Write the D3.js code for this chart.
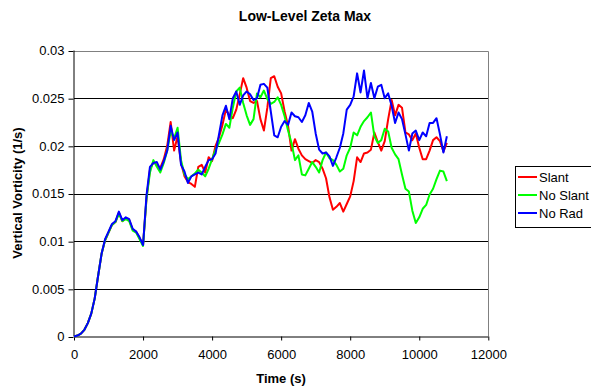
<!DOCTYPE html>
<html><head><meta charset="utf-8">
<script src="https://cdn.jsdelivr.net/npm/d3@7"></script>
<style>
html,body{margin:0;padding:0;background:#fff;}
svg{display:block;font-family:"Liberation Sans",Arial,sans-serif;}
</style></head>
<body><svg id="c" width="591" height="389"></svg>
<script>
const time = [
  0,100,200,300,400,500,600,700,800,900,
  1000,1100,1200,1300,1400,1500,1600,1700,1800,1900,
  2000,2100,2200,2300,2400,2500,2600,2700,2800,2900,
  3000,3100,3200,3300,3400,3500,3600,3700,3800,3900,
  4000,4100,4200,4300,4400,4500,4600,4700,4800,4900,
  5000,5100,5200,5300,5400,5500,5600,5700,5800,5900,
  6000,6100,6200,6300,6400,6500,6600,6700,6800,6900,
  7000,7100,7200,7300,7400,7500,7600,7700,7800,7900,
  8000,8100,8200,8300,8400,8500,8600,8700,8800,8900,
  9000,9100,9200,9300,9400,9500,9600,9700,9800,9900,
  10000,10100,10200,10300,10400,10500,10600,10700,10800
];
const slant = [
  0,0.0001,0.0003,0.0007,0.0014,0.0024,0.0040,0.0064,0.0087,0.0101,
  0.0109,0.0117,0.0120,0.0130,0.0121,0.0124,0.0122,0.0112,0.0110,0.0103,
  0.0096,0.0145,0.0175,0.0183,0.0180,0.0177,0.0186,0.0200,0.0225,0.0195,
  0.0210,0.0182,0.0168,0.0162,0.0160,0.0157,0.0178,0.0180,0.0172,0.0188,
  0.0184,0.0200,0.0209,0.0222,0.0238,0.0232,0.0229,0.0238,0.0254,0.0271,
  0.0261,0.0247,0.0245,0.0247,0.0228,0.0216,0.0240,0.0271,0.0273,0.0262,
  0.0255,0.0236,0.0221,0.0195,0.0207,0.0197,0.0190,0.0186,0.0184,0.0182,
  0.0185,0.0183,0.0176,0.0166,0.0146,0.0133,0.0136,0.0140,0.0131,0.0139,
  0.0147,0.0163,0.0188,0.0183,0.0192,0.0193,0.0196,0.0214,0.0204,0.0195,
  0.0205,0.0228,0.0248,0.0232,0.0243,0.0240,0.0214,0.0212,0.0206,0.0213,
  0.0198,0.0186,0.0186,0.0195,0.0206,0.0209,0.0205,0.0194,0.0203
];
const noSlant = [
  0,0.0001,0.0003,0.0007,0.0014,0.0024,0.0040,0.0064,0.0087,0.0101,
  0.0109,0.0117,0.0120,0.0129,0.0121,0.0123,0.0121,0.0111,0.0109,0.0102,
  0.0095,0.0145,0.0172,0.0185,0.0178,0.0172,0.0182,0.0195,0.0215,0.0208,
  0.0219,0.0185,0.0170,0.0165,0.0168,0.0171,0.0175,0.0172,0.0168,0.0176,
  0.0186,0.0196,0.0203,0.0212,0.0223,0.0219,0.0240,0.0257,0.0261,0.0245,
  0.0232,0.0222,0.0228,0.0255,0.0251,0.0258,0.0249,0.0244,0.0246,0.0251,
  0.0243,0.0231,0.0216,0.0203,0.0185,0.0190,0.0170,0.0169,0.0176,0.0183,
  0.0178,0.0172,0.0185,0.0193,0.0187,0.0185,0.0180,0.0173,0.0176,0.0190,
  0.0198,0.0214,0.0211,0.0220,0.0226,0.0230,0.0235,0.0210,0.0203,0.0206,
  0.0218,0.0215,0.0198,0.0191,0.0186,0.0170,0.0155,0.0152,0.0132,0.0119,
  0.0125,0.0134,0.0138,0.0149,0.0155,0.0165,0.0174,0.0173,0.0163
];
const noRad = [
  0,0.0001,0.0003,0.0007,0.0014,0.0024,0.0040,0.0064,0.0087,0.0102,
  0.0110,0.0118,0.0121,0.0131,0.0122,0.0125,0.0123,0.0113,0.0110,0.0104,
  0.0096,0.0148,0.0178,0.0182,0.0183,0.0175,0.0184,0.0195,0.0221,0.0206,
  0.0214,0.0180,0.0173,0.0161,0.0168,0.0170,0.0172,0.0170,0.0178,0.0185,
  0.0186,0.0192,0.0212,0.0232,0.0242,0.0228,0.0250,0.0257,0.0243,0.0253,
  0.0257,0.0254,0.0248,0.0250,0.0264,0.0265,0.0261,0.0236,0.0211,0.0209,
  0.0220,0.0226,0.0222,0.0235,0.0231,0.0230,0.0225,0.0232,0.0245,0.0236,
  0.0213,0.0196,0.0192,0.0193,0.0189,0.0179,0.0188,0.0198,0.0213,0.0238,
  0.0243,0.0252,0.0276,0.0256,0.0279,0.0250,0.0266,0.0250,0.0262,0.0264,
  0.0250,0.0255,0.0242,0.0224,0.0235,0.0228,0.0212,0.0195,0.0213,0.0216,
  0.0206,0.0214,0.0210,0.0224,0.0224,0.0229,0.0212,0.0193,0.0210
];
const seriesNames = ["Slant","No Slant","No Rad"];
const seriesColors = ["#ff0000","#00ff00","#0000ff"];
const yTicks = [0,0.005,0.01,0.015,0.02,0.025,0.03];
const yTickLabels = ["0","0.005","0.01","0.015","0.02","0.025","0.03"];
const xTicks = [0,2000,4000,6000,8000,10000,12000];
const xTickLabels = ["0","2000","4000","6000","8000","10000","12000"];

const svg = d3.select("#c");
const L = 74, R = 488.3, T = 50.5, B = 336.5;
const x = d3.scaleLinear().domain([0,12000]).range([L,R]);
const y = d3.scaleLinear().domain([0,0.03]).range([B,T]);

// gridlines
svg.append("g").selectAll("line").data(yTicks.filter(d=>d>0 && d<0.03)).join("line")
  .attr("x1",L).attr("x2",R).attr("y1",d=>Math.round(y(d))+0.5).attr("y2",d=>Math.round(y(d))+0.5)
  .attr("stroke","#000").attr("stroke-width",1);
// plot frame top/right
svg.append("path").attr("d",`M${L},${Math.round(T)+0.5}H${Math.round(R)+0.5}V${B}`)
  .attr("fill","none").attr("stroke","#808080").attr("stroke-width",1);

// axes
const yAxis = d3.axisLeft(y).tickValues(yTicks).tickFormat((d,i)=>yTickLabels[i]).tickSize(5).tickPadding(4);
const gy = svg.append("g").attr("transform",`translate(${Math.round(L)-0.5},0)`).call(yAxis);
gy.selectAll("line").attr("transform","translate(0,0.5)");
const xAxis = d3.axisBottom(x).tickValues(xTicks).tickFormat((d,i)=>xTickLabels[i]).tickSize(4).tickPadding(9);
const gx = svg.append("g").attr("transform",`translate(0,${Math.round(B)-0.5})`).call(xAxis);
[gx,gy].forEach(g=>{
  g.select(".domain").attr("stroke","#000");
  g.selectAll(".tick line").attr("stroke","#000");
  g.selectAll("text").attr("fill","#000").style("font-size","13px").style("font-family","'Liberation Sans',Arial,sans-serif");
});
gx.select(".domain").attr("d",`M${L},0.5H${R}`);
gy.select(".domain").attr("d",`M0.5,${T}V${B}`);

// lines
const data = [slant,noSlant,noRad];
const line = d3.line().x((d,i)=>x(time[i])).y(d=>y(d));
data.forEach((arr,k)=>{
  svg.append("path").datum(arr).attr("d",line)
    .attr("fill","none").attr("stroke",seriesColors[k]).attr("stroke-width",2)
    .attr("stroke-linejoin","round");
});

// title and axis titles
svg.append("text").attr("x",305).attr("y",21).attr("text-anchor","middle")
  .style("font-weight","bold").style("font-size","14px").text("Low-Level Zeta Max");
svg.append("text").attr("x",281).attr("y",383).attr("text-anchor","middle")
  .style("font-weight","bold").style("font-size","13px").text("Time (s)");
svg.append("text").attr("transform","translate(22,193) rotate(-90)").attr("text-anchor","middle")
  .style("font-weight","bold").style("font-size","13px").text("Vertical Vorticity (1/s)");

// legend
const lg = svg.append("g");
lg.append("rect").attr("x",515.5).attr("y",166.5).attr("width",90).attr("height",61)
  .attr("fill","#fff").attr("stroke","#000").attr("stroke-width",1);
seriesNames.forEach((n,i)=>{
  const yy = 177 + i*18;
  lg.append("line").attr("x1",518).attr("x2",537).attr("y1",yy).attr("y2",yy)
    .attr("stroke",seriesColors[i]).attr("stroke-width",2);
  lg.append("text").attr("x",539).attr("y",yy+4.5).style("font-size","13px").text(n);
});
</script></body></html>
